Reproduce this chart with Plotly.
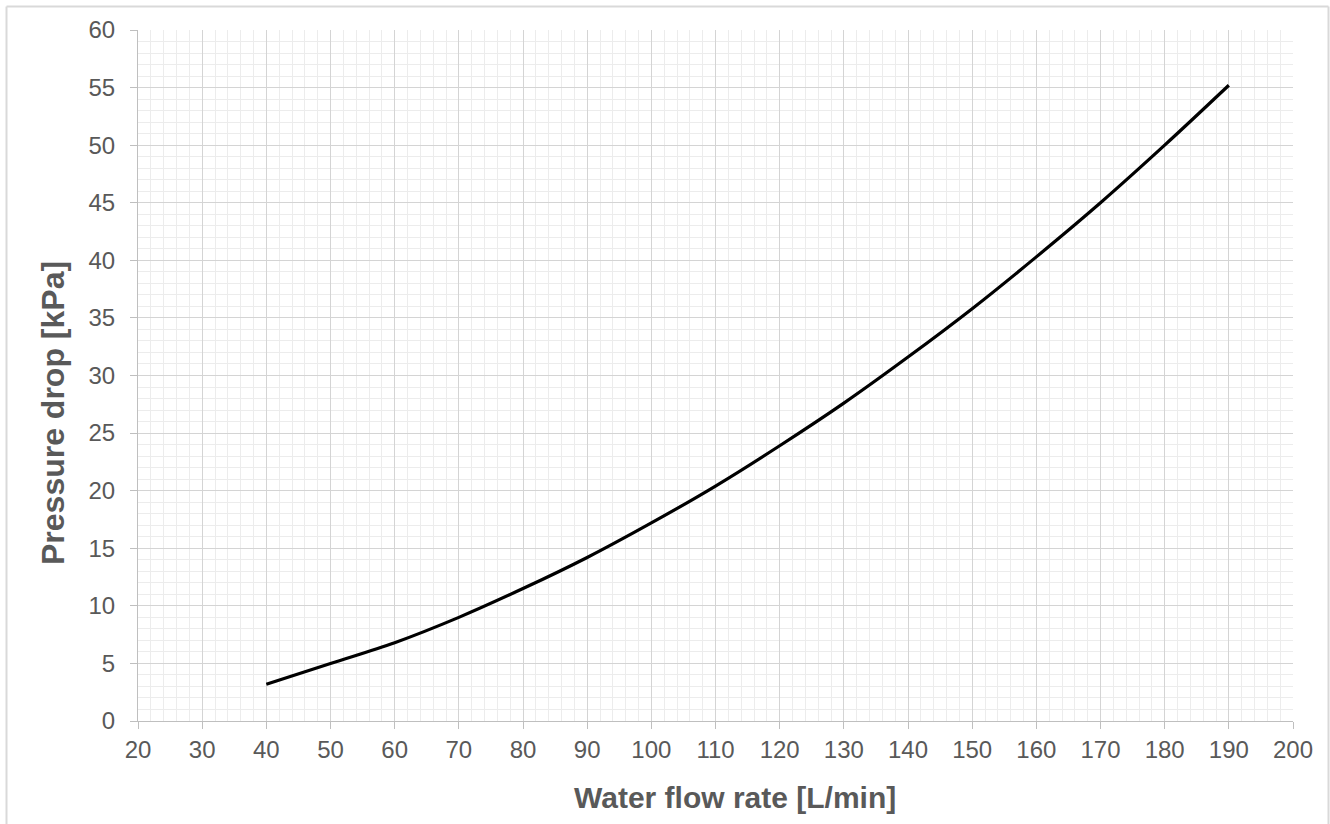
import plotly.graph_objects as go

flow = [40, 50, 60, 70, 80, 90, 100, 110, 120, 130, 140, 150, 160, 170, 180, 190]
pressure = [3.2, 5.0, 6.8, 9.0, 11.5, 14.2, 17.2, 20.4, 23.9, 27.6, 31.6, 35.8, 40.3, 45.0, 50.0, 55.2]
x_title = "Water flow rate [L/min]"
y_title = "Pressure drop [kPa]"

W, H = 1330, 824
L, R, T, B = 138, 37, 30, 103
pw, ph = W - L - R, H - T - B

def px_x(p):
    return (p - L) / pw

def px_y(p):
    return (H - B - p) / ph

fig = go.Figure()
fig.add_trace(go.Scatter(x=flow, y=pressure, mode="lines", line=dict(color="black", width=3.2, shape="spline"),
                         showlegend=False, hoverinfo="skip"))

tickfont = dict(family="Liberation Sans, Arial, sans-serif", size=24, color="#595959")

fig.update_xaxes(range=[20, 200], dtick=10, tick0=20, showgrid=True, gridcolor="#d4d4d4", gridwidth=1,
                 minor=dict(dtick=2, showgrid=True, gridcolor="#ececec", gridwidth=1),
                 showline=True, linecolor="#bfbfbf", linewidth=1, ticks="outside", ticklen=7, tickcolor="#bfbfbf",
                 tickfont=tickfont, zeroline=False, ticklabelstandoff=0)
fig.update_yaxes(range=[0, 60], dtick=5, tick0=0, showgrid=True, gridcolor="#d4d4d4", gridwidth=1,
                 minor=dict(dtick=1, showgrid=True, gridcolor="#ececec", gridwidth=1),
                 showline=True, linecolor="#bfbfbf", linewidth=1, ticks="outside", ticklen=7, tickcolor="#bfbfbf",
                 tickfont=tickfont, zeroline=False, ticklabelstandoff=10)

fig.add_annotation(text="<b>" + x_title + "</b>", xref="paper", yref="paper", x=px_x(735), y=px_y(797),
                   xanchor="center", yanchor="middle", showarrow=False,
                   font=dict(family="Liberation Sans, Arial, sans-serif", size=30, color="#595959"))
fig.add_annotation(text="<b>" + y_title + "</b>", xref="paper", yref="paper", x=px_x(53), y=px_y(413),
                   xanchor="center", yanchor="middle", showarrow=False, textangle=-90,
                   font=dict(family="Liberation Sans, Arial, sans-serif", size=32, color="#595959"))

x0, x1 = px_x(6.5), px_x(1328.5)
y0, y1 = px_y(830), px_y(6.5)
fig.add_shape(type="line", xref="paper", yref="paper", x0=x0, x1=x0, y0=y0, y1=y1, line=dict(color="#d9d9d9", width=2))
fig.add_shape(type="line", xref="paper", yref="paper", x0=x1, x1=x1, y0=y0, y1=y1, line=dict(color="#d9d9d9", width=2))
fig.add_shape(type="line", xref="paper", yref="paper", x0=x0, x1=x1, y0=y1, y1=y1, line=dict(color="#d9d9d9", width=2))

fig.update_layout(width=W, height=H, margin=dict(l=L, r=R, t=T, b=B, autoexpand=False),
                  plot_bgcolor="white", paper_bgcolor="white")

fig.write_html("out.html", config={"displayModeBar": False},
               post_script="document.body.style.margin='0';document.body.style.padding='0';")
